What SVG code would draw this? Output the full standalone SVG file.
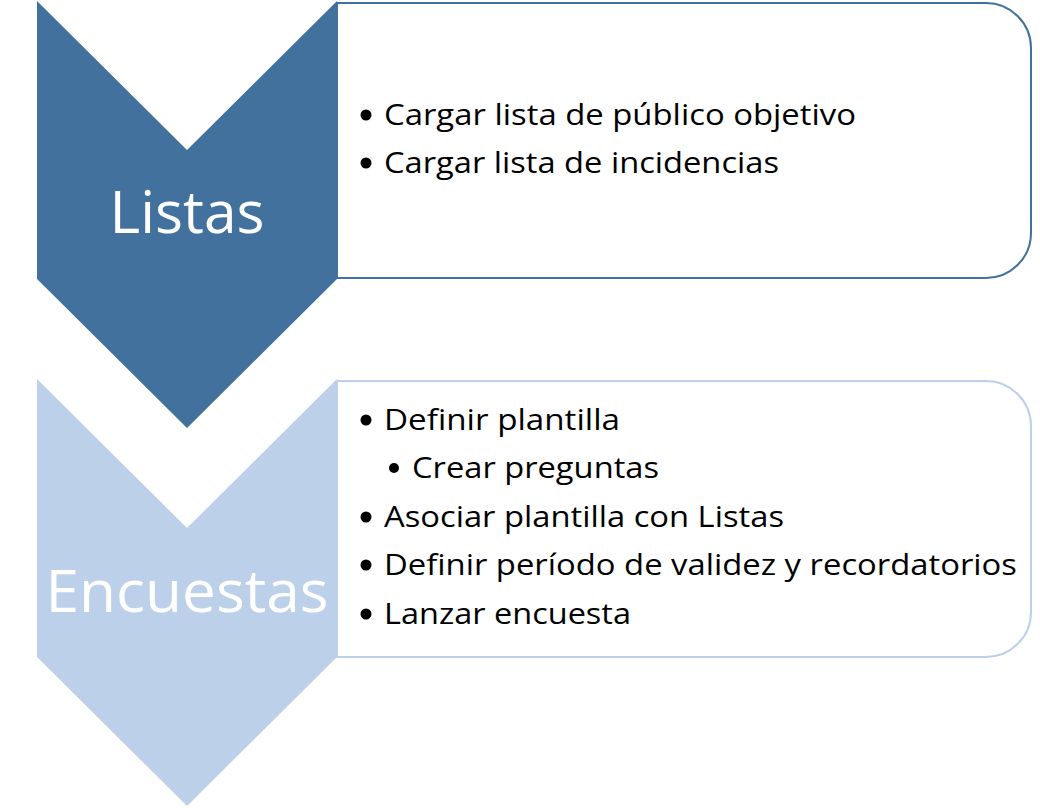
<svg xmlns="http://www.w3.org/2000/svg" width="1040" height="808" viewBox="0 0 1040 808">
<style>
  .box { fill: #FFFFFF; stroke-width: 2; }
  .b1 { stroke: #41719C; }
  .b2 { stroke: #BCD0E9; }
  .title { font-family: "Open Sans", "Liberation Sans", sans-serif; font-size: 59px; fill: #FFFFFF; text-anchor: middle; }
  .item { font-family: "Open Sans", "Liberation Sans", sans-serif; font-size: 29.5px; fill: #000000; }
  .dot { fill: #000000; }
</style>
<rect x="0" y="0" width="1040" height="808" fill="#FFFFFF"/>
<g id="box-listas">
  <path class="box b1" d="M337,3 H986 A45,45 0 0 1 1031,48 V233 A45,45 0 0 1 986,278 H337 Z"/>
  <circle class="dot" cx="366" cy="115" r="5.5"/>
  <text class="item" x="384" y="125" textLength="472" lengthAdjust="spacingAndGlyphs">Cargar lista de público objetivo</text>
  <circle class="dot" cx="366" cy="163" r="5.5"/>
  <text class="item" x="384" y="173" textLength="395" lengthAdjust="spacingAndGlyphs">Cargar lista de incidencias</text>
</g>
<g id="box-encuestas">
  <path class="box b2" d="M337,381 H986 A45,45 0 0 1 1031,426 V612 A45,45 0 0 1 986,657 H337 Z"/>
  <circle class="dot" cx="366" cy="420" r="5.5"/>
  <text class="item" x="384" y="430" textLength="236" lengthAdjust="spacingAndGlyphs">Definir plantilla</text>
  <circle class="dot" cx="394" cy="468" r="5"/>
  <text class="item" x="412" y="478" textLength="247" lengthAdjust="spacingAndGlyphs">Crear preguntas</text>
  <circle class="dot" cx="366" cy="517" r="5.5"/>
  <text class="item" x="384" y="527" textLength="400" lengthAdjust="spacingAndGlyphs">Asociar plantilla con Listas</text>
  <circle class="dot" cx="366" cy="565" r="5.5"/>
  <text class="item" x="384" y="575" textLength="633" lengthAdjust="spacingAndGlyphs">Definir período de validez y recordatorios</text>
  <circle class="dot" cx="366" cy="614" r="5.5"/>
  <text class="item" x="384" y="624" textLength="247" lengthAdjust="spacingAndGlyphs">Lanzar encuesta</text>
</g>
<g id="chevron-listas">
  <polygon fill="#41719C" points="37,1 187,150 337,1 337,279 187,428 37,279"/>
  <text class="title" x="187" y="233" textLength="155" lengthAdjust="spacingAndGlyphs">Listas</text>
</g>
<g id="chevron-encuestas">
  <polygon fill="#BCD0E9" points="37,379 187,528 337,379 337,657 187,806 37,657"/>
  <text class="title" x="187" y="612" textLength="283" lengthAdjust="spacingAndGlyphs">Encuestas</text>
</g>
<g id="connectors"></g>
</svg>
